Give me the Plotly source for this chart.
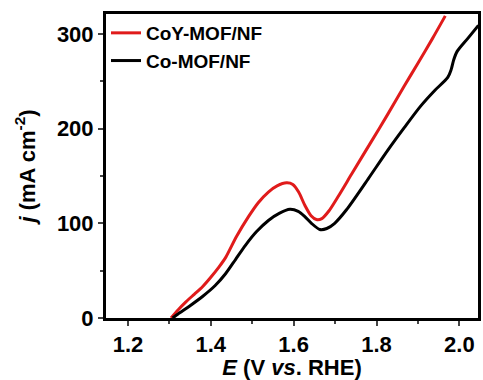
import plotly.graph_objects as go

# CoY-MOF/NF
E_coy = [1.304, 1.322, 1.340, 1.360, 1.380, 1.400, 1.420, 1.436, 1.462, 1.491, 1.515, 1.539, 1.560,
         1.583, 1.598, 1.612, 1.627, 1.642, 1.655, 1.668, 1.685, 1.707, 1.740, 1.787, 1.827,
         1.867, 1.900, 1.935, 1.966]
j_coy = [0, 9, 17, 25, 33, 43, 54, 64, 86, 107, 122, 133, 139.5,
         142.7, 141, 133, 119, 108, 104, 105, 113, 128, 152, 186, 215,
         245, 269, 295, 319]

# Co-MOF/NF
E_co = [1.308, 1.320, 1.350, 1.380, 1.410, 1.436, 1.460, 1.484, 1.510, 1.539, 1.565, 1.591, 1.611,
        1.627, 1.643, 1.663, 1.680, 1.699, 1.727, 1.780, 1.827, 1.867, 1.907, 1.940, 1.972,
        1.980, 1.986, 1.994, 2.020, 2.046]
j_co = [0, 4, 13, 22.7, 34, 47, 62, 77, 91, 103, 110.5, 114.7, 112.5,
        107, 100, 93.5, 94.5, 100, 114, 147, 177, 201, 224, 240, 254,
        262, 272, 281, 295, 309]

x_ticks = [1.2, 1.4, 1.6, 1.8, 2.0]
y_ticks = [0, 100, 200, 300]

FONT = "Liberation Sans, Arial, sans-serif"

fig = go.Figure()
fig.add_trace(go.Scatter(x=E_coy, y=j_coy, mode="lines", name="<b>CoY-MOF/NF</b>",
                         line=dict(color="#e01b1b", width=3, shape="spline", smoothing=0.8)))
fig.add_trace(go.Scatter(x=E_co, y=j_co, mode="lines", name="<b>Co-MOF/NF</b>",
                         line=dict(color="#000000", width=3, shape="spline", smoothing=0.8)))

fig.update_layout(
    width=483, height=380,
    margin=dict(l=106, r=2, t=14, b=62),
    plot_bgcolor="white", paper_bgcolor="white",
    font=dict(family=FONT, color="black"),
    showlegend=True,
    legend=dict(x=0.0, y=1.0, xanchor="left", yanchor="top",
                bgcolor="rgba(0,0,0,0)", font=dict(size=19, family=FONT),
                itemwidth=30, tracegroupgap=0),
    xaxis=dict(range=[1.147, 2.045], tickvals=x_ticks, ticktext=[f"<b>{v:.1f}</b>" for v in x_ticks],
               ticks="outside", ticklen=5, tickwidth=2, showline=True, linewidth=3, linecolor="black",
               mirror=True, showgrid=False, zeroline=False,
               tickfont=dict(size=22, family=FONT),
               minor=dict(tickvals=[1.3, 1.5, 1.7, 1.9], ticks="outside", ticklen=3, tickwidth=2),
               title=dict(text="<b><i>E</i> (V <i>vs</i>. RHE)</b>", font=dict(size=22, family=FONT), standoff=2)),
    yaxis=dict(range=[0, 321], tickvals=y_ticks, ticktext=[f"<b>{v}</b>" for v in y_ticks],
               ticks="outside", ticklen=5, tickwidth=2, showline=True, linewidth=3, linecolor="black",
               mirror=True, showgrid=False, zeroline=False,
               tickfont=dict(size=22, family=FONT),
               minor=dict(tickvals=[50, 150, 250], ticks="outside", ticklen=3, tickwidth=2),
               title=dict(text="<b><i>j</i> (mA cm<sup>-2</sup>)</b>", font=dict(size=22, family=FONT), standoff=16)),
)

fig.write_html("out.html")
